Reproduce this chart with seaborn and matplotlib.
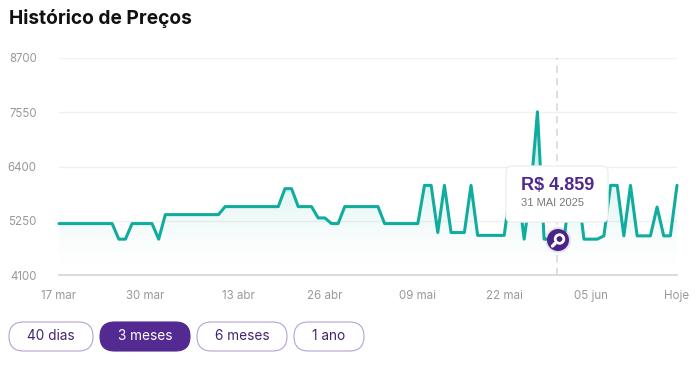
import numpy as np
import pandas as pd
import matplotlib
matplotlib.use("Agg")
import matplotlib.pyplot as plt
import seaborn as sns
from matplotlib.patches import FancyBboxPatch, Circle

sns.set_theme(style="white")
plt.rcParams['font.family'] = ['Inter', 'DejaVu Sans']

precos = [5190, 5190, 5190, 5190, 5190, 5190, 5190, 5190, 5190, 4860,
          4860, 5190, 5190, 5190, 5190, 4860, 5380, 5380, 5380, 5380,
          5380, 5380, 5380, 5380, 5380, 5550, 5550, 5550, 5550, 5550,
          5550, 5550, 5550, 5550, 5930, 5930, 5550, 5550, 5550, 5310,
          5310, 5190, 5190, 5550, 5550, 5550, 5550, 5550, 5550, 5190,
          5190, 5190, 5190, 5190, 5190, 6000, 6000, 5000, 6000, 5000,
          5000, 5000, 6000, 4940, 4940, 4940, 4940, 4940, 6000, 6000,
          4860, 5900, 7560, 4860, 4860, 4859, 4860, 6000, 6000, 4860,
          4860, 4860, 4930, 6000, 6000, 4930, 6000, 4930, 4930, 4930,
          5540, 4930, 4930, 6000]
y_ticks = [4100, 5250, 6400, 7550, 8700]
x_ticks = [0, 13, 27, 40, 54, 67, 80, 93]
x_labels = ['17 mar', '30 mar', '13 abr', '26 abr', '09 mai', '22 mai', '05 jun', 'Hoje']
botoes = ['40 dias', '3 meses', '6 meses', '1 ano']
botoes_x = [9, 100, 197, 294]
botoes_w = [84, 90, 90, 70]

df = pd.DataFrame({'dia': np.arange(len(precos)), 'preco': precos})

W, H = 700, 366
fig = plt.figure(figsize=(W / 100, H / 100), dpi=100, facecolor='white')
ax = fig.add_axes([59 / W, 1 - 275 / H, 618 / W, 217 / H])

# degrade embaixo da linha
gradiente = np.zeros((256, 1, 4))
gradiente[:, :, :3] = matplotlib.colors.to_rgb('#0fae9e')
gradiente[:, 0, 3] = np.linspace(0, 1, 256) ** 1.6 * 0.55
img = ax.imshow(gradiente, origin='lower', aspect='auto', extent=[0, 93, 4100, 8700], zorder=1)
area = ax.fill_between(df['dia'], df['preco'], 4100, color='none')
img.set_clip_path(area.get_paths()[0], transform=ax.transData)

sns.lineplot(data=df, x='dia', y='preco', color='#10ad9e', linewidth=2.2, ax=ax, zorder=3, clip_on=False)
ax.axvline(75, color='#dcdcdc', linewidth=1.3, linestyle=(0, (4, 3)), zorder=2)

ax.set_xlim(0, 93)
ax.set_ylim(4100, 8700)
ax.set_xticks(x_ticks, x_labels)
ax.set_yticks(y_ticks)
ax.set_xlabel('')
ax.set_ylabel('')
ax.grid(axis='y', color='#f0f0f0', linewidth=1)
ax.set_axisbelow(True)
sns.despine(ax=ax, left=True, top=True, right=True)
ax.spines['bottom'].set_color('#d6d6d6')
ax.tick_params(axis='both', length=0, labelsize=8.3, labelcolor='#999999')
ax.tick_params(axis='x', pad=11)
ax.tick_params(axis='y', pad=16)

# camada em pixels para titulo, tooltip e botoes
ov = fig.add_axes([0, 0, 1, 1], facecolor='none')
ov.set_xlim(0, W)
ov.set_ylim(H, 0)
ov.axis('off')

ov.text(9, 18, 'Histórico de Preços', fontsize=13.8, fontweight='bold', color='#111111', va='center')

ov.add_patch(FancyBboxPatch((506, 166), 102, 56, boxstyle='round,pad=0,rounding_size=6',
                            fc='white', ec='#efefef', lw=1, zorder=5))
ov.text(521, 185.5, 'R$ 4.859', fontsize=13, fontweight='bold', color='#4f2a8e',
        family=['Liberation Sans'], va='center', zorder=6)
ov.text(521, 203.5, '31 MAI 2025', fontsize=8, color='#777777',
        family=['Liberation Sans'], va='center', zorder=6)

# marcador com a lupa
ov.add_patch(Circle((558, 240), 13, fc='#4c2a85', ec='none', alpha=0.12, zorder=6))
ov.add_patch(Circle((558, 240), 11, fc='#4b2388', ec='none', zorder=7))
ov.add_patch(Circle((559.5, 239), 4.3, fc='none', ec='white', lw=2, zorder=8))
ov.plot([555, 552.5], [243.5, 246], color='white', lw=2.4, solid_capstyle='round', zorder=8)

for nome, x, w in zip(botoes, botoes_x, botoes_w):
    ativo = nome == '3 meses'
    ov.add_patch(FancyBboxPatch((x, 322), w, 29, boxstyle='round,pad=0,rounding_size=14.5',
                                fc='#522a92' if ativo else 'white',
                                ec='#522a92' if ativo else '#b5a2d6', lw=0.8))
    ov.text(x + w / 2, 336.5, nome, fontsize=9.8, color='white' if ativo else '#43256f',
            ha='center', va='center')

fig.savefig('out.png', dpi=100, facecolor='white')
